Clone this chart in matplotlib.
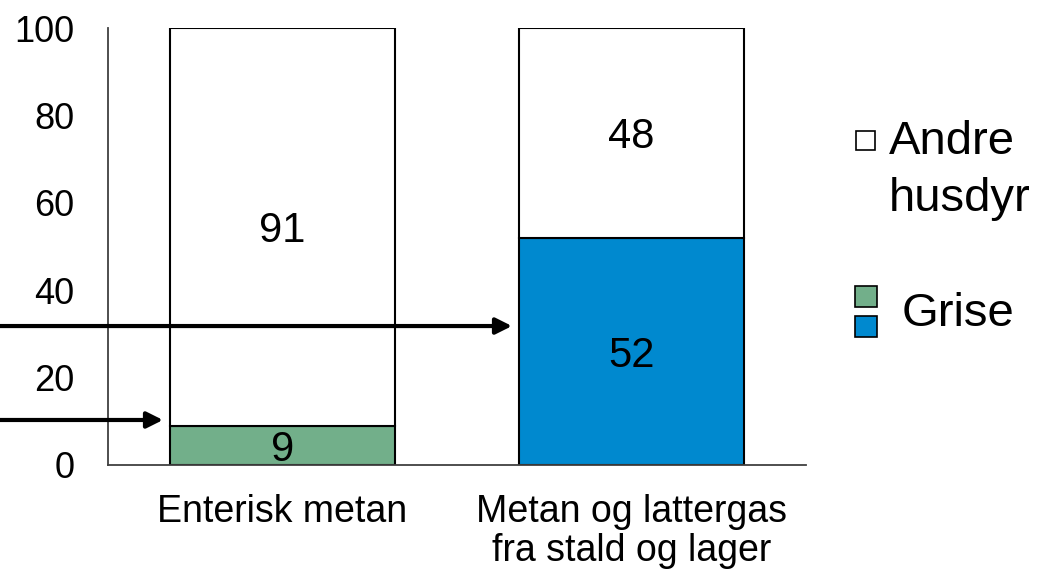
import matplotlib
matplotlib.use("Agg")
import matplotlib.pyplot as plt
from matplotlib.patches import Rectangle

kategorier = ["Enterisk metan", "Metan og lattergas\nfra stald og lager"]
grise = [9, 52]
andre = [91, 48]
grise_farver = ["#72AF8A", "#0089CF"]
pil_y = [10.3, 31.8]  # højde af pilene (dataenheder)

plt.rcParams["font.family"] = ["Liberation Sans", "DejaVu Sans"]
fig = plt.figure(figsize=(10.38, 5.7), dpi=100)
ax = fig.add_axes([108 / 1038, 1 - 465 / 570, 698 / 1038, 437 / 570])

x = range(len(kategorier))
bredde = 0.645
ax.bar(x, grise, bredde, color=grise_farver, edgecolor="black", linewidth=1.5)
ax.bar(x, andre, bredde, bottom=grise, color="white", edgecolor="black", linewidth=1.5)

for i in x:
    ax.text(i, grise[i] / 2, str(grise[i]), ha="center", va="center_baseline", fontsize=30)
    ax.text(i, grise[i] + andre[i] / 2, str(andre[i]), ha="center", va="center_baseline", fontsize=30)

ax.set_xlim(-0.5, 1.5)
ax.set_ylim(0, 100)
ax.set_yticks([0, 20, 40, 60, 80, 100])
ax.set_xticks(list(x))
ax.set_xticklabels(kategorier, fontsize=27, linespacing=1.1)
ax.tick_params(axis="y", labelsize=26, length=0, pad=24)
ax.tick_params(axis="x", length=0, pad=21)
for side in ["top", "right"]:
    ax.spines[side].set_visible(False)
for side in ["left", "bottom"]:
    ax.spines[side].set_color("#404040")
    ax.spines[side].set_linewidth(1.3)

# pile fra venstre kant ind til søjlerne
for i, y in enumerate(pil_y):
    slut = i - bredde / 2 - 0.02
    ax.annotate("", xy=(slut, y), xycoords="data",
                xytext=(0, y), textcoords=("figure fraction", "data"),
                arrowprops=dict(arrowstyle="-|>", color="black", lw=3,
                                mutation_scale=24, shrinkA=0, shrinkB=0),
                annotation_clip=False)

# forklaring
fig.patches.append(Rectangle((856 / 1038, 1 - 150 / 570), 19 / 1038, 19 / 570,
                             transform=fig.transFigure, facecolor="white",
                             edgecolor="black", linewidth=1.2))
fig.text(889 / 1038, 1 - 142 / 570, "Andre", fontsize=34, va="center")
fig.text(889 / 1038, 1 - 199 / 570, "husdyr", fontsize=34, va="center")
fig.patches.append(Rectangle((855 / 1038, 1 - 307 / 570), 22 / 1038, 21 / 570,
                             transform=fig.transFigure, facecolor=grise_farver[0],
                             edgecolor="black", linewidth=1.2))
fig.patches.append(Rectangle((855 / 1038, 1 - 337 / 570), 22 / 1038, 21 / 570,
                             transform=fig.transFigure, facecolor=grise_farver[1],
                             edgecolor="black", linewidth=1.2))
fig.text(902 / 1038, 1 - 314 / 570, "Grise", fontsize=34, va="center")

fig.savefig("out.png", dpi=100)
